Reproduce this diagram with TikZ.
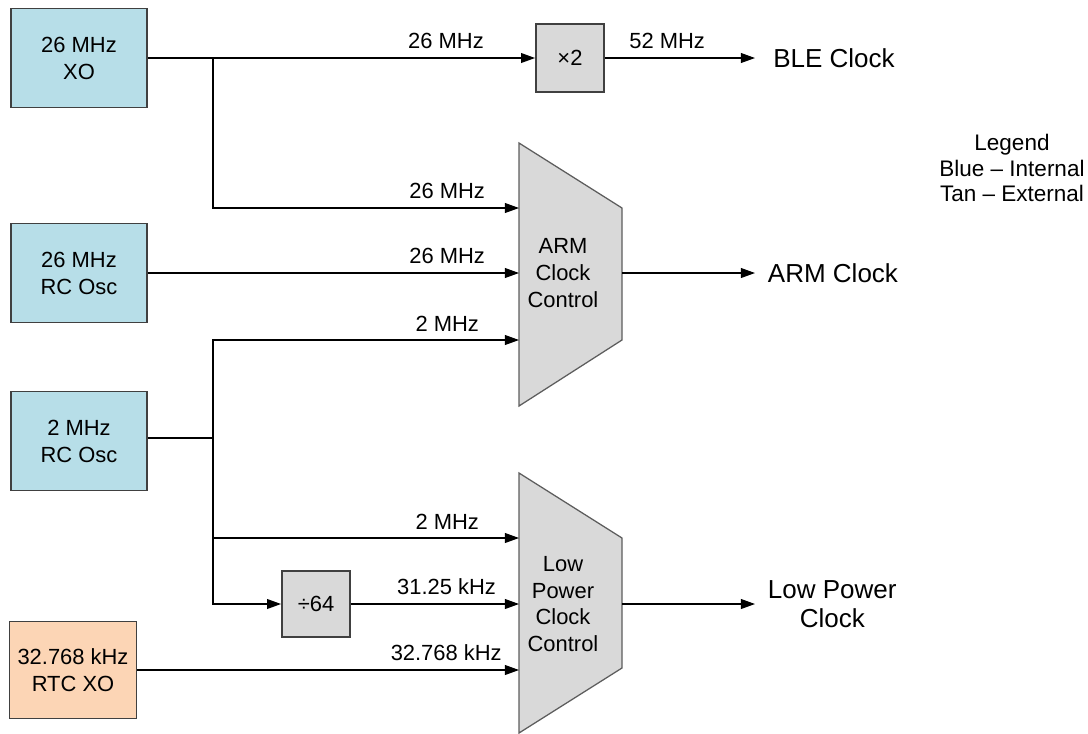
\documentclass[tikz,border=0pt]{standalone}
\usepackage{fontspec}
\setmainfont{Liberation Sans}
\usetikzlibrary{positioning,calc,arrows.meta}
\definecolor{intblue}{HTML}{B7DEE8}
\definecolor{exttan}{HTML}{FCD5B5}
\definecolor{blockgray}{HTML}{D9D9D9}
\definecolor{edgegray}{HTML}{404040}

\tikzset{
  osc/.style={draw=edgegray, line width=1.3pt, minimum width=3.4cm, minimum height=2.475cm,
    align=center, inner sep=0pt, font=\fontsize{15.6}{19.2}\selectfont},
  mult/.style={draw=edgegray, fill=blockgray, line width=1.3pt, minimum width=1.7cm,
    minimum height=1.68cm, inner sep=0pt, font=\fontsize{15.6}{19.2}\selectfont},
  mux/.style={fill=blockgray, draw=edgegray!85, line width=0.9pt},
  muxtext/.style={align=center, inner sep=0pt, font=\fontsize{15.6}{19}\selectfont},
  wire/.style={line width=0.8pt},
  sig/.style={wire, -{Triangle[length=10pt,width=7pt]}},
  lbl/.style={anchor=south east, inner xsep=2.5pt, inner ysep=6pt, font=\fontsize{15.6}{19}\selectfont},
  clkout/.style={anchor=west, inner ysep=0pt, inner xsep=9pt, align=center,
    font=\fontsize{18.5}{21}\selectfont}
}

\begin{document}
\begin{tikzpicture}[x=0.025cm, y=-0.025cm]
  \useasboundingbox (0,0) rectangle (1088,733);

  % oscillators
  \node (xo) [osc, fill=intblue] at (79,58) {26 MHz\\XO};
  \node (rcosc) [osc, fill=intblue] at (79,273) {26 MHz\\RC Osc};
  \node (lfosc) [osc, fill=intblue] at (79,441) {2 MHz\\RC Osc};
  \node (rtcxo) [osc, fill=exttan, minimum width=3.175cm, minimum height=2.425cm] at (73,670) {32.768 kHz\\RTC XO};

  % multiplier / divider
  \node (dbl) [mult] at (570,58) {×2};
  \node (div) [mult, minimum height=1.65cm] at (316,604) {÷64};

  % clock control blocks
  \fill[mux] (519,143) -- (622,208) -- (622,340) -- (519,406) -- cycle;
  \fill[mux] (519,473) -- (622,538) -- (622,668) -- (519,733) -- cycle;
  \node (arm) [muxtext] at (563,273) {ARM\\Clock\\Control};
  \node (lpc) [muxtext] at (563,604) {Low\\Power\\Clock\\Control};
  \coordinate (arm in1) at (519,208);
  \coordinate (arm in2) at (519,273);
  \coordinate (arm in3) at (519,340);
  \coordinate (arm out) at (622,273);
  \coordinate (lpc in1) at (519,538);
  \coordinate (lpc in2) at (519,604);
  \coordinate (lpc in3) at (519,670);
  \coordinate (lpc out) at (622,604);

  % outputs
  \node (ble) [clkout, inner xsep=12.8pt] at (755,58) {BLE Clock};
  \node (armclk) [clkout] at (755,273) {ARM Clock};
  \node (lpclk) [clkout] at (755,604) {Low Power\\Clock};

  % legend
  \node (legend) [align=center, font=\fontsize{16}{18.2}\selectfont] at (1012,168)
    {Legend\\Blue -- Internal\\Tan -- External};

  % branch points
  \coordinate (xo tap) at (213,58);
  \coordinate (lf tap) at (213,438);

  % connectors
  \draw[sig] (xo.east) -- (dbl.west) node[lbl, pos=1, xshift=-1.18cm] {26 MHz};
  \draw[sig] (xo tap) |- (arm in1) node[lbl, pos=1, xshift=-0.75cm] {26 MHz};
  \draw[sig] (rcosc.east) -- (arm in2) node[lbl, pos=1, xshift=-0.75cm] {26 MHz};
  \draw[wire] (lfosc.east |- lf tap) -- (lf tap);
  \draw[sig] (lf tap) |- (arm in3) node[lbl, pos=1, xshift=-0.9cm] {2 MHz};
  \draw[sig] (lf tap) |- (lpc in1) node[lbl, pos=1, xshift=-0.9cm] {2 MHz};
  \draw[sig] (lf tap) |- (div.west);
  \draw[sig] (div.east) -- (lpc in2) node[lbl, pos=1, xshift=-0.475cm] {31.25 kHz};
  \draw[sig] (rtcxo.east) -- (lpc in3) node[lbl, pos=1, xshift=-0.33cm] {32.768 kHz};
  \draw[sig] (dbl.east) -- (ble.west) node[lbl, pos=1, xshift=-1.15cm] {52 MHz};
  \draw[sig] (arm out) -- (armclk.west);
  \draw[sig] (lpc out) -- (lpclk.west);
\end{tikzpicture}
\end{document}
